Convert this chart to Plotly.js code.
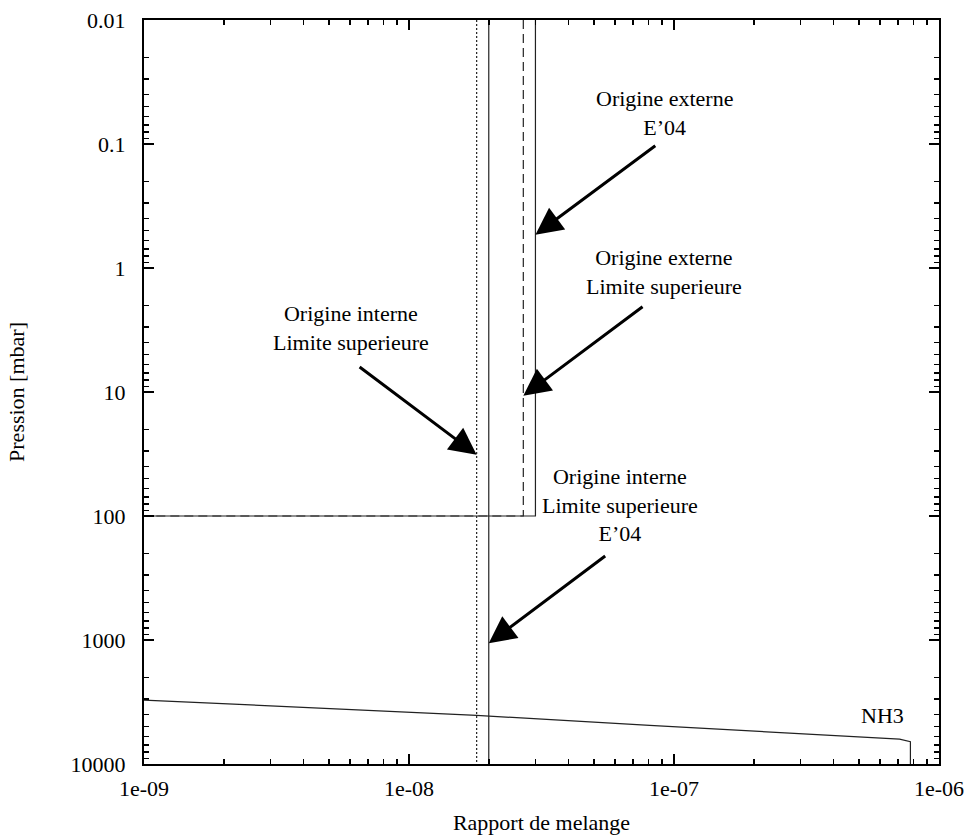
<!DOCTYPE html>
<html>
<head>
<meta charset="utf-8">
<script src="https://cdn.plot.ly/plotly-3.0.1.min.js"></script>
<style>html,body{margin:0;padding:0;background:#fff;}#chart{width:970px;height:835px;}</style>
</head>
<body>
<div id="chart"></div>
<script>
// ---- data ----
const nh3X = [1e-9, 3.9e-9, 1.8e-8, 8.1e-8, 3.0e-7, 7.1e-7, 7.8e-7, 7.8e-7];
const nh3P = [3050, 3480, 4055, 4880, 5740, 6300, 6620, 10000];

const fullP = [0.01, 10000];
const intUpperX = [1.8e-8, 1.8e-8];      // Origine interne, limite superieure (dotted)
const intE04X = [2e-8, 2e-8];            // Origine interne, limite superieure E'04 (solid)

const stepP = [0.01, 100, 100, 10000];
const extUpperX = [2.7e-8, 2.7e-8, 1e-12, 1e-12]; // Origine externe, limite superieure (dashed)
const extE04X = [3e-8, 3e-8, 1e-12, 1e-12];       // Origine externe E'04 (solid)

const xTickVals = [1e-9, 1e-8, 1e-7, 1e-6];
const xTickText = ['1e-09', '1e-08', '1e-07', '1e-06'];
const yTickVals = [0.01, 0.1, 1, 10, 100, 1000, 10000];
const yTickText = ['0.01', '0.1', '1', '10', '100', '1000', '10000'];

function minorTicks(e0, e1) {
  const out = [];
  for (let e = e0; e < e1; e++) for (let d = 2; d <= 9; d++) out.push(d * Math.pow(10, e));
  return out;
}

const FONT = 'Liberation Serif, Times New Roman, serif';
const LC = '#222';

const traces = [
  {x: nh3X, y: nh3P, mode: 'lines', line: {color: LC, width: 1.2}, hoverinfo: 'skip'},
  {x: intUpperX, y: fullP, mode: 'lines', line: {color: LC, width: 1.2, dash: '2px,2px'}},
  {x: intE04X, y: fullP, mode: 'lines', line: {color: LC, width: 1.2}},
  {x: extUpperX, y: stepP, mode: 'lines', line: {color: LC, width: 1.2, dash: '9px,5px'}},
  {x: extE04X, y: stepP, mode: 'lines', line: {color: LC, width: 1.2}}
];

const L = Math.log10;
const txt = (x, y, text) => ({xref: 'x', yref: 'y', x: x, y: y, text: text, showarrow: false,
  font: {family: FONT, size: 22, color: '#000'}, align: 'center'});
const arr = (x, y, ax, ay) => ({xref: 'x', yref: 'y', axref: 'x', ayref: 'y', x: x, y: y, ax: ax, ay: ay,
  text: '', showarrow: true, arrowhead: 2, arrowsize: 1.8, arrowwidth: 3, arrowcolor: '#000', standoff: 0, startstandoff: 0});

const annotations = [
  txt(-7.034, -1.249, 'Origine externe<br>E’04'),
  arr(L(extE04X[0]), -0.269, -7.065, -0.995),
  txt(-7.038, 0.034, 'Origine externe<br>Limite superieure'),
  arr(L(extUpperX[0]), 1.031, -7.113, 0.304),
  txt(-8.219, 0.482, 'Origine interne<br>Limite superieure'),
  arr(L(intUpperX[0]), 1.507, -8.192, 0.789),
  txt(-7.204, 1.914, 'Origine interne<br>Limite superieure<br>E’04'),
  arr(L(intE04X[0]), 3.027, -7.254, 2.314),
  txt(-6.215, 3.605, 'NH3')
];

const axisCommon = {
  type: 'log', showgrid: false, zeroline: false, showline: true, linewidth: 2, linecolor: '#000',
  mirror: 'allticks', ticks: 'inside', ticklen: 10, tickwidth: 1.5, tickcolor: '#000',
  tickfont: {family: FONT, size: 22, color: '#000'}, tickmode: 'array'
};

const layout = {
  width: 970, height: 835,
  margin: {l: 144, r: 31, t: 20, b: 71},
  paper_bgcolor: '#fff', plot_bgcolor: '#fff',
  showlegend: false,
  xaxis: Object.assign({}, axisCommon, {
    range: [-9, -6], tickvals: xTickVals, ticktext: xTickText, ticklabelstandoff: 4,
    minor: {tickmode: 'array', tickvals: minorTicks(-9, -6), ticks: 'inside', ticklen: 5, tickwidth: 1.5, tickcolor: '#000', showgrid: false},
    title: {text: 'Rapport de melange', font: {family: FONT, size: 22, color: '#000'}, standoff: 14}
  }),
  yaxis: Object.assign({}, axisCommon, {
    range: [4, -2], tickvals: yTickVals, ticktext: yTickText, ticklabelstandoff: 12,
    minor: {tickmode: 'array', tickvals: minorTicks(-2, 4), ticks: 'inside', ticklen: 5, tickwidth: 1.5, tickcolor: '#000', showgrid: false},
    title: {text: 'Pression [mbar]', font: {family: FONT, size: 22, color: '#000'}, standoff: 40}
  }),
  annotations: annotations
};

Plotly.newPlot('chart', traces, layout, {staticPlot: true, displayModeBar: false});
</script>
</body>
</html>
